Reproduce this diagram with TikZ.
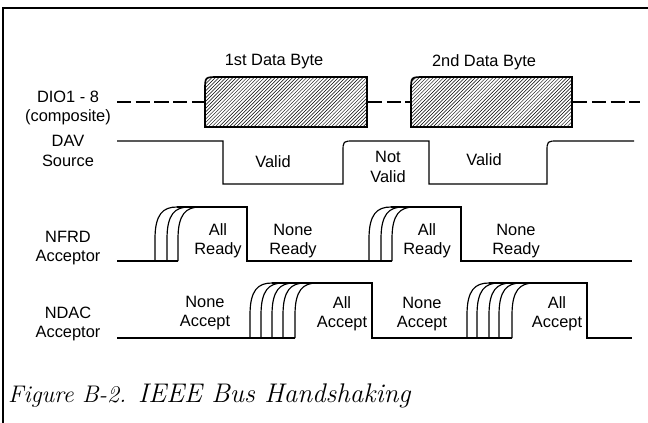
\documentclass[tikz,border=0pt]{standalone}
\usepackage{fontspec}
\setsansfont{Liberation Sans}
\usetikzlibrary{patterns}

\begin{document}
\begin{tikzpicture}[
x=0.03cm, y=-0.03cm,
lbl/.style={
font=\sffamily\fontsize{14}{16.5}\selectfont,
align=center,
inner sep=0pt
},
wave/.style={
draw=black,
line width=1pt
},
databyte/.style={
draw=black,
line width=1.4pt,
pattern=north east lines
},
bus/.style={
line width=1pt,
dash pattern=on 12pt off 4pt
},
capt/.style={
anchor=base west,
inner sep=0pt
}
]
\useasboundingbox (0,0) rectangle (648,423);

% frame
\draw [line width=1.6pt] (3,423) -- (3,8) -- (648,8);

% signal names
\node (dio) [lbl] at (68,108) {DIO1 - 8\\(composite)};
\node (dav) [lbl] at (68,151) {DAV\\Source};
\node (nfrd) [lbl] at (68,248) {NFRD\\Acceptor};
\node (ndac) [lbl] at (68,324) {NDAC\\Acceptor};

% data bus
\node (byte1) [lbl] at (274,62) {1st Data Byte};
\node (byte2) [lbl] at (484,62) {2nd Data Byte};
\draw [databyte] (367,127) -- (205,127) -- (205,90) .. controls (205,77) .. (218,77) -- (367,77) -- cycle;
\draw [databyte] (572,127) -- (411,127) -- (411,90) .. controls (411,77) .. (424,77) -- (572,77) -- cycle;
\draw [bus] (117,102) -- (204,102);
\draw [bus] (368,102) -- (410,102);
\draw [bus] (573,102) -- (640,102);

% DAV
\draw [wave] (117,141) -- (223,141) -- (223,184) -- (343,184) -- (343,152)
  .. controls (343,141) .. (354,141) -- (429,141) -- (429,184) -- (547,184)
  -- (547,152) .. controls (547,141) .. (558,141) -- (634,141);
\node (valid1) [lbl] at (273,162) {Valid};
\node (notvalid) [lbl] at (388,167) {Not\\Valid};
\node (valid2) [lbl] at (484,160) {Valid};

% NFRD
\draw [wave] (117,261) -- (178,261);
\draw [wave] (177,207) -- (247,207) -- (247,261) -- (392,261);
\draw [wave] (391,207) -- (461,207) -- (461,261) -- (632,261);
\foreach \x in {155,167,178,369,381,392}
  \draw [wave] (\x,261) -- (\x,239) .. controls (\x,214) and (\x+8,207) .. (\x+22,207);
\node (ready1) [lbl] at (218,241) {All\\Ready};
\node (none1) [lbl] at (293,241) {None\\Ready};
\node (ready2) [lbl] at (427,241) {All\\Ready};
\node (none2) [lbl] at (516,241) {None\\Ready};

% NDAC
\draw [wave] (117,338) -- (295,338);
\draw [wave] (272,283) -- (372,283) -- (372,338) -- (512,338);
\draw [wave] (489,283) -- (587,283) -- (587,338) -- (632,338);
\foreach \x in {250,261,272,283,295,467,477,489,499,512}
  \draw [wave] (\x,338) -- (\x,315) .. controls (\x,290) and (\x+8,283) .. (\x+22,283);
\node (nacc1) [lbl] at (205,313) {None\\Accept};
\node (acc1) [lbl] at (342,314) {All\\Accept};
\node (nacc2) [lbl] at (422,314) {None\\Accept};
\node (acc2) [lbl] at (557,314) {All\\Accept};

% caption
\node (figno) [capt, font=\fontsize{20.5}{23}\selectfont\itshape] at (8,402) {Figure B-2.};
\node (figtitle) [capt, font=\fontsize{23}{25}\selectfont\itshape] at (138,402) {IEEE Bus Handshaking};

\end{tikzpicture}
\end{document}
